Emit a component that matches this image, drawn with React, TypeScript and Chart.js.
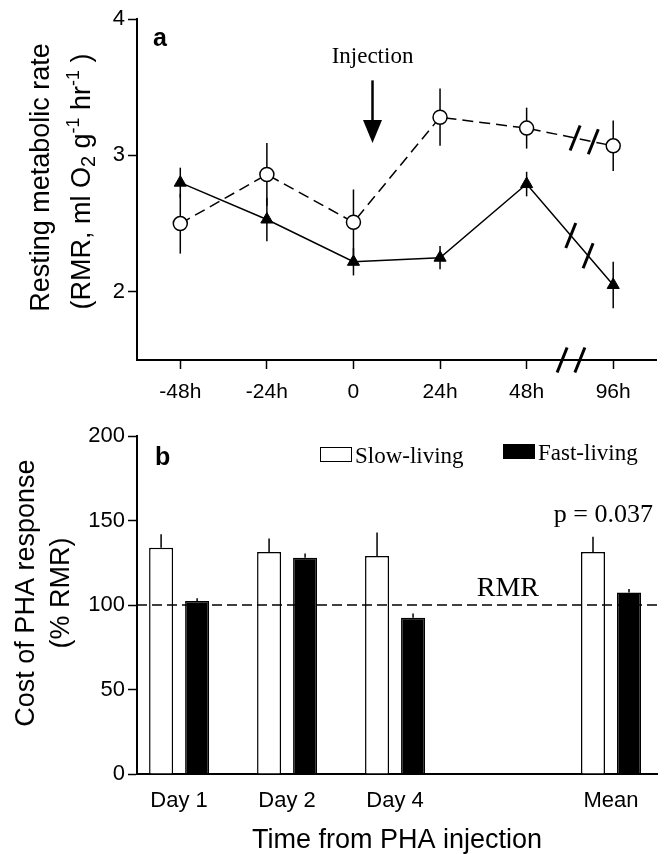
import React, { useEffect, useRef } from 'react';
import { Chart, registerables } from 'chart.js';

Chart.register(...registerables);

// ---------- Panel a data ----------
const timeLabels = ['-48h', '-24h', '0', '24h', '48h', '96h'];
const slowRMR = [2.5, 2.86, 2.51, 3.28, 3.2, 3.07];
const slowRMRErr = [0.22, 0.23, 0.24, 0.21, 0.15, 0.185];
const fastRMR = [2.8, 2.53, 2.22, 2.25, 2.79, 2.05];
const fastRMRErr = [0.11, 0.16, 0.1, 0.085, 0.09, 0.17];
const rmrTicks = [2, 3, 4];
const injectionAt = 2.22; // between "0" and "24h"
const injectionArrowFrom = 3.55;
const injectionArrowTo = 3.09;
const injectionTextAt = 3.68;

// ---------- Panel b data ----------
const dayLabels = ['Day 1', 'Day 2', 'Day 4', 'Mean'];
const dayPositions = [0, 1, 2, 4];
const slowCost = [134, 131.5, 129, 131.5];
const slowCostErr = [8, 8, 14, 9];
const fastCost = [102.5, 128, 92.5, 107.5];
const fastCostErr = [1.5, 2.5, 2.5, 2];
const costTicks = [0, 50, 100, 150, 200];
const rmrBaseline = 100;
const pValueText = 'p = 0.037';

const SANS = '"Liberation Sans", Arial, sans-serif';
const SERIF = '"Liberation Serif", "Times New Roman", serif';

Chart.defaults.font.family = SANS;
Chart.defaults.color = '#000';

const errorBarPlugin = {
  id: 'errorBars',
  beforeDatasetsDraw(chart: any) {
    const ctx = chart.ctx;
    const yScale = chart.scales.y;
    chart.data.datasets.forEach((ds: any, di: number) => {
      if (!ds.errors) return;
      const meta = chart.getDatasetMeta(di);
      ctx.save();
      ctx.strokeStyle = '#000';
      ctx.lineWidth = 1.5;
      meta.data.forEach((el: any, i: number) => {
        const v = ds.data[i].y;
        const e = ds.errors[i];
        const top = yScale.getPixelForValue(v + e);
        const bottom = ds.oneSided ? yScale.getPixelForValue(v) : yScale.getPixelForValue(v - e);
        ctx.beginPath();
        ctx.moveTo(el.x, top);
        ctx.lineTo(el.x, bottom);
        ctx.stroke();
      });
      ctx.restore();
    });
  },
};

function slash(ctx: CanvasRenderingContext2D, x: number, y: number) {
  ctx.beginPath();
  ctx.moveTo(x - 5, y + 12.5);
  ctx.lineTo(x + 5, y - 12.5);
  ctx.stroke();
}

type Seg = { t: string; size: number; dy?: number };
function drawRotatedRich(ctx: CanvasRenderingContext2D, segs: Seg[], baselineX: number, centerY: number) {
  ctx.save();
  let total = 0;
  segs.forEach((s) => {
    ctx.font = `${s.size}px ${SANS}`;
    total += ctx.measureText(s.t).width;
  });
  ctx.translate(baselineX, centerY);
  ctx.rotate(-Math.PI / 2);
  ctx.fillStyle = '#000';
  ctx.textBaseline = 'alphabetic';
  ctx.textAlign = 'left';
  let x = -total / 2;
  segs.forEach((s) => {
    ctx.font = `${s.size}px ${SANS}`;
    ctx.fillText(s.t, x, s.dy || 0);
    x += ctx.measureText(s.t).width;
  });
  ctx.restore();
}

const panelAPlugin = {
  id: 'panelA',
  afterDraw(chart: any) {
    const { ctx, chartArea } = chart;
    const xs = chart.scales.x;
    const ys = chart.scales.y;
    ctx.save();
    ctx.strokeStyle = '#000';
    ctx.fillStyle = '#000';
    // axis break
    ctx.lineWidth = 3;
    slash(ctx, xs.getPixelForValue(4.41), chartArea.bottom);
    slash(ctx, xs.getPixelForValue(4.615), chartArea.bottom);
    // line breaks
    const fracs = [
      [0.56, 0.77],
      [0.51, 0.71],
    ];
    [0, 1].forEach((di) => {
      const pts = chart.getDatasetMeta(di).data;
      const a = pts[4];
      const b = pts[5];
      fracs[di].forEach((f) => {
        slash(ctx, a.x + (b.x - a.x) * f, a.y + (b.y - a.y) * f);
      });
    });
    // injection arrow
    const ax = xs.getPixelForValue(injectionAt);
    const y0 = ys.getPixelForValue(injectionArrowFrom);
    const y1 = ys.getPixelForValue(injectionArrowTo);
    const headH = 23;
    ctx.lineWidth = 2.5;
    ctx.beginPath();
    ctx.moveTo(ax, y0);
    ctx.lineTo(ax, y1 - headH + 1);
    ctx.stroke();
    ctx.beginPath();
    ctx.moveTo(ax - 9.5, y1 - headH);
    ctx.lineTo(ax + 9.5, y1 - headH);
    ctx.lineTo(ax, y1);
    ctx.closePath();
    ctx.fill();
    ctx.font = `23px ${SERIF}`;
    ctx.textAlign = 'center';
    ctx.textBaseline = 'alphabetic';
    ctx.fillText('Injection', ax, ys.getPixelForValue(injectionTextAt));
    // panel letter
    ctx.font = `bold 25px ${SANS}`;
    ctx.textAlign = 'left';
    ctx.fillText('a', chartArea.left + 16, chartArea.top + 27);
    ctx.restore();
    // y title
    const cy = (chartArea.top + chartArea.bottom) / 2;
    drawRotatedRich(ctx, [{ t: 'Resting metabolic rate', size: 27 }], 48.5, cy - 12);
    drawRotatedRich(
      ctx,
      [
        { t: '(RMR, ml O', size: 27 },
        { t: '2', size: 20, dy: 5 },
        { t: ' g', size: 27 },
        { t: '-1', size: 18, dy: -11 },
        { t: ' hr', size: 27 },
        { t: '-1', size: 18, dy: -11 },
        { t: ' )', size: 27 },
      ],
      90,
      cy - 8
    );
  },
};

const panelBPlugin = {
  id: 'panelB',
  afterDraw(chart: any) {
    const { ctx, chartArea } = chart;
    const xs = chart.scales.x;
    const ys = chart.scales.y;
    ctx.save();
    // RMR baseline
    const yb = ys.getPixelForValue(rmrBaseline);
    ctx.strokeStyle = '#000';
    ctx.lineWidth = 1.5;
    ctx.setLineDash([10, 5]);
    ctx.beginPath();
    ctx.moveTo(chartArea.left, yb);
    ctx.lineTo(chartArea.right, yb);
    ctx.stroke();
    ctx.setLineDash([]);
    ctx.fillStyle = '#000';
    ctx.font = `28px ${SERIF}`;
    ctx.textAlign = 'center';
    ctx.textBaseline = 'alphabetic';
    ctx.fillText('RMR', xs.getPixelForValue(3.045), ys.getPixelForValue(105.3));
    ctx.font = `26px ${SERIF}`;
    ctx.fillText(pValueText, xs.getPixelForValue(3.93), ys.getPixelForValue(149.4));
    // legend
    const ds = chart.data.datasets;
    const legendItems = [
      { x: 320, boxTop: 27, textBase: 43 },
      { x: 503, boxTop: 24, textBase: 40 },
    ];
    ctx.font = `23px ${SERIF}`;
    ctx.textAlign = 'left';
    legendItems.forEach((li, i) => {
      ctx.fillStyle = ds[i].backgroundColor;
      ctx.fillRect(li.x, li.boxTop, 32, 15);
      ctx.strokeStyle = '#000';
      ctx.lineWidth = 1;
      ctx.strokeRect(li.x + 0.5, li.boxTop + 0.5, 31, 14);
      ctx.fillStyle = '#000';
      ctx.fillText(ds[i].label, li.x + 35, li.textBase);
    });
    // panel letter
    ctx.font = `bold 25px ${SANS}`;
    ctx.fillText('b', chartArea.left + 18, chartArea.top + 29);
    // x title
    ctx.font = `27px ${SANS}`;
    ctx.textAlign = 'center';
    ctx.fillText('Time from PHA injection', (chartArea.left + chartArea.right) / 2, chartArea.bottom + 74);
    ctx.restore();
    const cy = (chartArea.top + chartArea.bottom) / 2;
    drawRotatedRich(ctx, [{ t: 'Cost of PHA response', size: 27 }], 34, cy - 12);
    drawRotatedRich(ctx, [{ t: '(% RMR)', size: 27 }], 69, cy - 12);
  },
};

const tickGrid = {
  display: true,
  drawOnChartArea: false,
  drawTicks: true,
  tickLength: 9,
  tickWidth: 1.5,
  tickColor: '#000',
};
const axisBorder = { display: true, color: '#000', width: 2 };

export default function App() {
  const refA = useRef<HTMLCanvasElement>(null);
  const refB = useRef<HTMLCanvasElement>(null);

  useEffect(() => {
    const chartA = new Chart(refA.current as HTMLCanvasElement, {
      type: 'line',
      data: {
        datasets: [
          {
            label: 'Slow-living',
            data: timeLabels.map((_, i) => ({ x: i, y: slowRMR[i] })),
            errors: slowRMRErr,
            borderColor: '#000',
            borderWidth: 1.5,
            borderDash: [11, 6],
            pointStyle: 'circle',
            pointRadius: 7,
            pointBackgroundColor: '#fff',
            pointBorderColor: '#000',
            pointBorderWidth: 1.5,
            fill: false,
            tension: 0,
          } as any,
          {
            label: 'Fast-living',
            data: timeLabels.map((_, i) => ({ x: i, y: fastRMR[i] })),
            errors: fastRMRErr,
            borderColor: '#000',
            borderWidth: 1.5,
            pointStyle: 'triangle',
            pointRadius: 7,
            pointBackgroundColor: '#000',
            pointBorderColor: '#000',
            pointBorderWidth: 1,
            fill: false,
            tension: 0,
          } as any,
        ],
      },
      options: {
        responsive: false,
        animation: false,
        layout: { padding: { left: 0, right: 8, top: 19, bottom: 0 } },
        plugins: { legend: { display: false }, tooltip: { enabled: false } },
        scales: {
          x: {
            type: 'linear',
            min: -0.5,
            max: 5.5,
            afterFit: (s: any) => {
              s.height = 60;
            },
            afterBuildTicks: (s: any) => {
              s.ticks = timeLabels.map((_, i) => ({ value: i }));
            },
            ticks: {
              callback: (v: any) => timeLabels[v],
              font: { size: 21, family: SANS },
              color: '#000',
              padding: 11,
              autoSkip: false,
              maxRotation: 0,
            },
            grid: tickGrid,
            border: axisBorder,
          },
          y: {
            type: 'linear',
            min: 1.5,
            max: 4,
            afterFit: (s: any) => {
              s.width = 137;
            },
            afterBuildTicks: (s: any) => {
              s.ticks = rmrTicks.map((v) => ({ value: v }));
            },
            ticks: { font: { size: 22, family: SANS }, color: '#000', padding: 3 },
            grid: tickGrid,
            border: axisBorder,
          },
        },
      } as any,
      plugins: [errorBarPlugin, panelAPlugin],
    });

    const chartB = new Chart(refB.current as HTMLCanvasElement, {
      type: 'bar',
      data: {
        datasets: [
          {
            label: 'Slow-living',
            data: dayPositions.map((p, i) => ({ x: p, y: slowCost[i] })),
            errors: slowCostErr,
            oneSided: true,
            backgroundColor: '#fff',
            borderColor: '#000',
            borderWidth: 1.5,
            categoryPercentage: 0.667,
            barPercentage: 0.667,
          } as any,
          {
            label: 'Fast-living',
            data: dayPositions.map((p, i) => ({ x: p, y: fastCost[i] })),
            errors: fastCostErr,
            oneSided: true,
            backgroundColor: '#000',
            borderColor: '#000',
            borderWidth: 1.5,
            categoryPercentage: 0.667,
            barPercentage: 0.667,
          } as any,
        ],
      },
      options: {
        responsive: false,
        animation: false,
        layout: { padding: { left: 0, right: 8, top: 14, bottom: 0 } },
        plugins: { legend: { display: false }, tooltip: { enabled: false } },
        scales: {
          x: {
            type: 'linear',
            offset: false,
            min: -0.39,
            max: 4.426,
            afterFit: (s: any) => {
              s.height = 80;
            },
            afterBuildTicks: (s: any) => {
              s.ticks = dayPositions.map((p) => ({ value: p }));
            },
            ticks: {
              callback: (v: any) => dayLabels[dayPositions.indexOf(v)],
              font: { size: 22, family: SANS },
              color: '#000',
              padding: 14,
              autoSkip: false,
              maxRotation: 0,
            },
            grid: { display: true, drawOnChartArea: false, drawTicks: false },
            border: axisBorder,
          },
          y: {
            type: 'linear',
            min: 0,
            max: 200,
            afterFit: (s: any) => {
              s.width = 137;
            },
            afterBuildTicks: (s: any) => {
              s.ticks = costTicks.map((v) => ({ value: v }));
            },
            ticks: { font: { size: 22, family: SANS }, color: '#000', padding: 3 },
            grid: tickGrid,
            border: axisBorder,
          },
        },
      } as any,
      plugins: [errorBarPlugin, panelBPlugin],
    });

    return () => {
      chartA.destroy();
      chartB.destroy();
    };
  }, []);

  return (
    <div style={{ position: 'absolute', left: 0, top: 0, width: 665, height: 854, background: '#fff' }}>
      <canvas ref={refA} width={665} height={420} style={{ position: 'absolute', left: 0, top: 0 }} />
      <canvas ref={refB} width={665} height={434} style={{ position: 'absolute', left: 0, top: 420 }} />
    </div>
  );
}
